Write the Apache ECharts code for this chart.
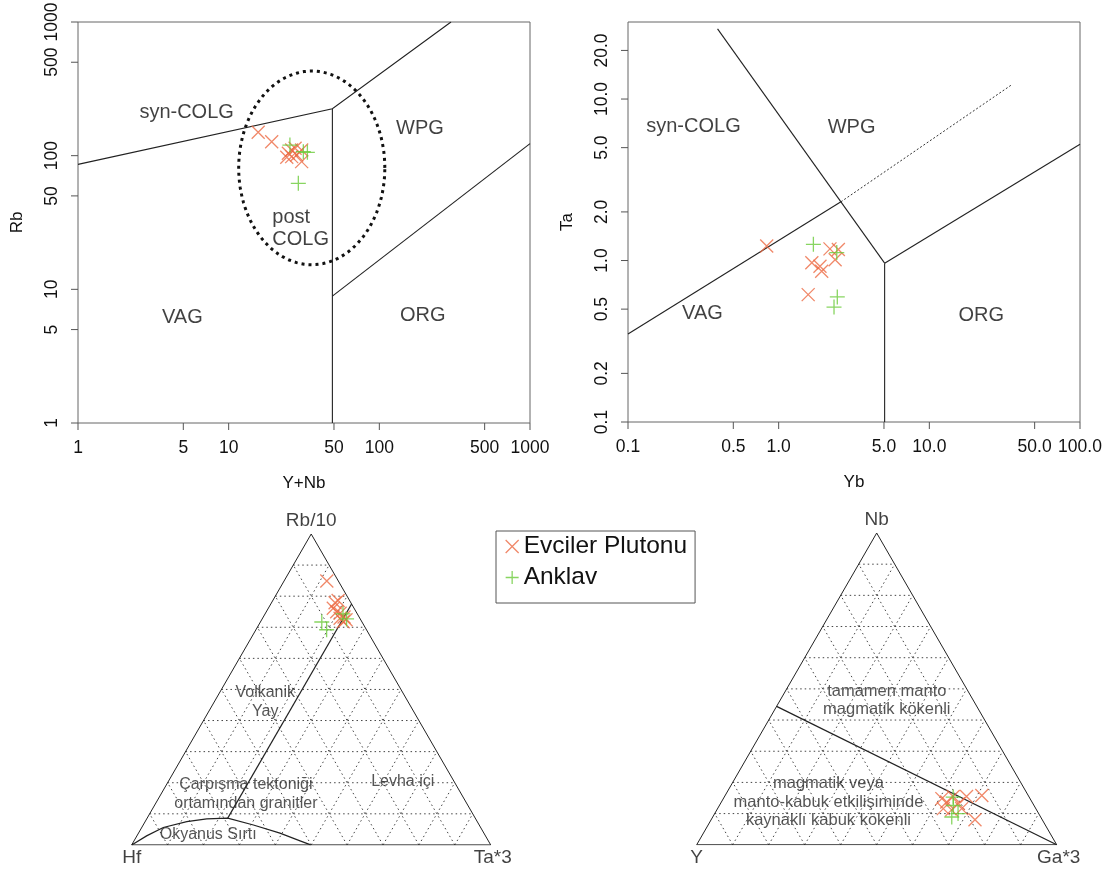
<!DOCTYPE html>
<html><head><meta charset="utf-8">
<script src="https://cdn.jsdelivr.net/npm/echarts/dist/echarts.min.js"></script>
<style>html,body{margin:0;padding:0;background:#fff}#c{width:1115px;height:870px}</style>
</head><body><div id="c"></div>
<script>
// ---------------- DATA ----------------
// Plot 1: Rb vs Y+Nb (log-log)
const p1XTicks = [1, 5, 10, 50, 100, 500, 1000];
const p1XTickLabels = ['1', '5', '10', '50', '100', '500', '1000'];
const p1YTicks = [1, 5, 10, 50, 100, 500, 1000];
const p1YTickLabels = ['1', '5', '10', '50', '100', '500', '1000'];
const p1EvcilerYNb = [15.7, 19.3, 24.9, 26.2, 27.6, 24.3, 28.3, 30.5, 30.5, 26.2];
const p1EvcilerRb  = [149.6, 127, 104.2, 110.3, 113.5, 97.2, 101.2, 110.3, 90.2, 98.3];
const p1AnklavYNb  = [25.5, 31.3, 29.0, 33.3];
const p1AnklavRb   = [120, 107, 62.1, 106];
const p1Boundaries = [
  [[1, 86.1], [48.8, 224.7], [299, 1000]],
  [[48.8, 224.7], [48.8, 1]],
  [[48.8, 8.9], [1000, 123]]
];
const p1PostColgEllipse = { cx: 35.6, cy: 81, rxDecades: 0.485, ryDecades: 0.7245 };
const p1RegionNames = ['syn-COLG', 'WPG', 'VAG', 'ORG', 'post\nCOLG'];
const p1RegionAt = [[5.26, 212], [186, 159], [4.93, 6.14], [194, 6.39], [19.5, 28.7]];

// Plot 2: Ta vs Yb (log-log)
const p2XTicks = [0.1, 0.5, 1, 5, 10, 50, 100];
const p2XTickLabels = ['0.1', '0.5', '1.0', '5.0', '10.0', '50.0', '100.0'];
const p2YTicks = [0.1, 0.2, 0.5, 1, 2, 5, 10, 20];
const p2YTickLabels = ['0.1', '0.2', '0.5', '1.0', '2.0', '5.0', '10.0', '20.0'];
const p2EvcilerYb = [0.833, 2.19, 2.49, 1.66, 1.88, 1.93, 2.37, 1.57];
const p2EvcilerTa = [1.23, 1.18, 1.17, 0.968, 0.922, 0.858, 1.01, 0.615];
const p2AnklavYb  = [1.70, 2.43, 2.45, 2.33];
const p2AnklavTa  = [1.26, 1.12, 0.595, 0.515];
const p2Boundaries = [
  [[0.393, 27.2], [5.05, 0.963]],
  [[0.1, 0.351], [2.59, 2.31]],
  [[5.05, 0.963], [5.05, 0.1]],
  [[5.05, 0.963], [100, 5.25]]
];
const p2DottedBoundary = [[[2.59, 2.31], [35.4, 12.3]]];
const p2RegionNames = ['syn-COLG', 'WPG', 'VAG', 'ORG'];
const p2RegionAt = [[0.272, 6.77], [3.05, 6.65], [0.312, 0.473], [22.1, 0.455]];

// Ternary 1: Rb/10 (top) - Hf (left) - Ta*3 (right), fractions
const t1Vertices = ['Rb/10', 'Hf', 'Ta*3'];
const t1EvcilerRb10 = [0.849, 0.779, 0.786, 0.761, 0.750, 0.745, 0.718, 0.724, 0.729, 0.733];
const t1EvcilerHf   = [0.032, 0.044, 0.032, 0.058, 0.054, 0.047, 0.052, 0.041, 0.055, 0.042];
const t1EvcilerTa3  = [0.119, 0.177, 0.182, 0.181, 0.196, 0.208, 0.230, 0.235, 0.216, 0.225];
const t1AnklavRb10  = [0.717, 0.692, 0.727, 0.743];
const t1AnklavHf    = [0.112, 0.111, 0.038, 0.040];
const t1AnklavTa3   = [0.171, 0.197, 0.235, 0.217];
// boundaries as [top, right] fractions
const t1ArcBoundary = [[[0.775, 0.225], [0.086, 0.2245]]];
const t1RidgeCurve = [[[0, 0], [0.029, 0.027], [0.056, 0.060], [0.075, 0.116], [0.084, 0.167], [0.086, 0.2245],
  [0.064, 0.307], [0.038, 0.394], [0.013, 0.4625], [0, 0.4986]]];
const t1RegionNames = ['Volkanik\nYay', 'Çarpışma tektoniği\nortamından granitler', 'Levha içi', 'Okyanus Sırtı'];
const t1RegionAt = [[0.372, 0.398], [0.318, 0.1415], [0.755, 0.176], [0.213, 0.028]];

// Ternary 2: Nb (top) - Y (left) - Ga*3 (right), fractions
const t2Vertices = ['Nb', 'Y', 'Ga*3'];
const t2EvcilerNb  = [0.148, 0.137, 0.155, 0.155, 0.158, 0.116, 0.112, 0.116, 0.080, 0.132];
const t2EvcilerY   = [0.246, 0.237, 0.210, 0.173, 0.129, 0.257, 0.236, 0.206, 0.187, 0.207];
const t2EvcilerGa3 = [0.607, 0.626, 0.635, 0.672, 0.713, 0.627, 0.652, 0.678, 0.733, 0.661];
const t2AnklavNb   = [0.153, 0.126, 0.089, 0.100];
const t2AnklavY    = [0.211, 0.224, 0.247, 0.224];
const t2AnklavGa3  = [0.636, 0.650, 0.664, 0.676];
const t2Boundary = [[[0.444, 0], [0, 1]]];
const t2RegionNames = ['tamamen manto\nmagmatik kökenli', 'magmatik veya\nmanto-kabuk etkilişiminde\nkaynaklı kabuk kökenli'];
const t2RegionAt = [[0.528, 0.401], [0.366, 0.118]];

const seriesNames = ['Evciler Plutonu', 'Anklav'];

// ---------------- CHART ----------------
const FF = "'Liberation Sans', Arial, sans-serif";
const ORANGE = '#EC6A43', GREEN = '#6ACB3A', TXT = '#111';
const SQ = Math.sqrt(3) / 2;
const XP = 'path://M0,0L10,10M10,0L0,10';
const PP = 'path://M5,0L5,10M0,5L10,5';

const zip = (a, b) => a.map((v, i) => [v, b[i]]);
const tern = (t, r) => [r + t / 2, t * SQ];
const ternPts = (top, right) => top.map((t, i) => tern(t, right[i]));
const ternSegs = segs => segs.map(s => s.map(p => tern(p[0], p[1])));

function linesS(g, segs, style, z) {
  return { type: 'lines', coordinateSystem: 'cartesian2d', xAxisIndex: g, yAxisIndex: g, polyline: true,
    silent: true, symbol: ['none', 'none'], lineStyle: Object.assign({ opacity: 1 }, style),
    data: segs.map(s => ({ coords: s })), z: z || 2, animation: false };
}
function scatterS(name, g, data, sym, size, color) {
  return { type: 'scatter', name, xAxisIndex: g, yAxisIndex: g, data, symbol: sym, symbolSize: size,
    itemStyle: { color: color, borderColor: color, borderWidth: 1.3 }, emphasis: { disabled: true }, silent: true, z: 6 };
}
function textS(g, names, at, fontSize, opts) {
  opts = opts || {};
  return { type: 'scatter', xAxisIndex: g, yAxisIndex: g, symbolSize: 1, silent: true, emphasis: { disabled: true },
    itemStyle: { color: 'rgba(0,0,0,0)' }, z: 4,
    data: names.map((n, i) => ({ name: n, value: at[i],
      label: Object.assign({}, (opts.per && opts.per[i]) || {}) })),
    label: { show: true, position: 'inside', formatter: '{b}', fontSize, fontFamily: FF, color: opts.color || TXT,
      lineHeight: opts.lineHeight || fontSize + 3 } };
}
function tickS(g, vals, labels, dir, fixed) {
  return { type: 'custom', xAxisIndex: g, yAxisIndex: g, silent: true, clip: false, z: 3,
    data: vals.map(v => dir === 'x' ? [v, fixed] : [fixed, v]),
    renderItem: (params, api) => {
      const p = api.coord([api.value(0), api.value(1)]);
      const lab = labels[params.dataIndex];
      const st = { text: lab, fontSize: 17.5, fontFamily: FF, fill: TXT, align: 'center', verticalAlign: 'middle' };
      if (dir === 'x') {
        return { type: 'group', children: [
          { type: 'line', shape: { x1: p[0], y1: p[1], x2: p[0], y2: p[1] + 7 }, style: { stroke: '#555', lineWidth: 1 } },
          { type: 'text', x: p[0], y: p[1] + 25, style: st } ] };
      }
      return { type: 'group', children: [
        { type: 'line', shape: { x1: p[0] - 7, y1: p[1], x2: p[0], y2: p[1] }, style: { stroke: '#555', lineWidth: 1 } },
        { type: 'text', x: p[0] - 26, y: p[1], rotation: Math.PI / 2, style: st } ] };
    } };
}

// ellipse (guide shape) computed in log space
const ell = [];
for (let k = 0; k <= 120; k++) {
  const a = k / 120 * 2 * Math.PI;
  ell.push([Math.pow(10, Math.log10(p1PostColgEllipse.cx) + p1PostColgEllipse.rxDecades * Math.cos(a)),
            Math.pow(10, Math.log10(p1PostColgEllipse.cy) + p1PostColgEllipse.ryDecades * Math.sin(a))]);
}

// ternary dotted grid
const ternGrid = [];
for (let k = 1; k <= 9; k++) {
  const f = k / 10;
  ternGrid.push([tern(f, 0), tern(f, 1 - f)]);
  ternGrid.push([tern(0, f), tern(1 - f, f)]);
  ternGrid.push([tern(0, 1 - f), tern(1 - f, 0)]);
}
const triangle = [[tern(0, 0), tern(0, 1), tern(1, 0), tern(0, 0)]];
const vertexAt = [tern(1, 0), tern(0, 0), tern(0, 1)];
const vertexOffsets = [{ offset: [0, -13] }, { offset: [0, 13] }, { offset: [2, 13] }];

const logAxis = (g, min, max, name) => ({
  type: 'log', logBase: 10, gridIndex: g, min, max, name, nameLocation: 'middle', nameGap: 52,
  nameTextStyle: { fontSize: 17, fontFamily: FF, color: TXT },
  axisLine: { show: false }, axisTick: { show: false }, axisLabel: { show: false }, splitLine: { show: false }
});
const ternAxis = (g, max) => ({ type: 'value', gridIndex: g, min: 0, max, show: false, splitLine: { show: false } });

const chart = echarts.init(document.getElementById('c'), null, { renderer: 'canvas' });
chart.setOption({
  animation: false,
  backgroundColor: '#fff',
  grid: [
    { left: 78, top: 22, width: 452, height: 401, show: true, borderColor: '#666', borderWidth: 1, backgroundColor: 'transparent' },
    { left: 628, top: 22, width: 452, height: 400, show: true, borderColor: '#666', borderWidth: 1, backgroundColor: 'transparent' },
    { left: 131.7, top: 534, width: 359, height: 359 * SQ },
    { left: 696.7, top: 533, width: 360, height: 360 * SQ }
  ],
  xAxis: [logAxis(0, 1, 1000, 'Y+Nb'), logAxis(1, 0.1, 100, 'Yb'), ternAxis(2, 1), ternAxis(3, 1)],
  yAxis: [logAxis(0, 1, 1000, 'Rb'), logAxis(1, 0.1, 30, 'Ta'), ternAxis(2, SQ), ternAxis(3, SQ)],
  legend: {
    orient: 'vertical', left: 496, top: 531, selectedMode: false,
    data: [
      { name: seriesNames[0], icon: XP, itemStyle: { color: ORANGE, borderColor: ORANGE, borderWidth: 1.3 } },
      { name: seriesNames[1], icon: PP, itemStyle: { color: GREEN, borderColor: GREEN, borderWidth: 1.3 } }
    ],
    itemWidth: 13, itemHeight: 13, itemGap: 6,
    textStyle: { fontSize: 24.5, fontFamily: FF, color: TXT },
    borderColor: '#555', borderWidth: 1, padding: [3, 8, 13, 9], backgroundColor: '#fff'
  },
  series: [
    // plot 1
    linesS(0, p1Boundaries, { color: '#222', width: 1.1 }),
    linesS(0, [ell], { color: '#111', width: 3, type: [3, 4] }),
    textS(0, p1RegionNames, p1RegionAt, 20, { lineHeight: 22, per: [null, null, null, null, { align: 'left' }] }),
    tickS(0, p1XTicks, p1XTickLabels, 'x', 1),
    tickS(0, p1YTicks, p1YTickLabels, 'y', 1),
    scatterS(seriesNames[0], 0, zip(p1EvcilerYNb, p1EvcilerRb), XP, 13, ORANGE),
    scatterS(seriesNames[1], 0, zip(p1AnklavYNb, p1AnklavRb), PP, 15, GREEN),
    // plot 2
    linesS(1, p2Boundaries, { color: '#222', width: 1.1 }),
    linesS(1, p2DottedBoundary, { color: '#333', width: 1, type: [2, 2] }),
    textS(1, p2RegionNames, p2RegionAt, 20),
    tickS(1, p2XTicks, p2XTickLabels, 'x', 0.1),
    tickS(1, p2YTicks, p2YTickLabels, 'y', 0.1),
    scatterS(seriesNames[0], 1, zip(p2EvcilerYb, p2EvcilerTa), XP, 13, ORANGE),
    scatterS(seriesNames[1], 1, zip(p2AnklavYb, p2AnklavTa), PP, 15, GREEN),
    // ternary 1
    linesS(2, ternGrid, { color: '#444', width: 1, type: [1.5, 3] }),
    linesS(2, triangle, { color: '#222', width: 1 }),
    linesS(2, ternSegs(t1ArcBoundary), { color: '#222', width: 1.2 }),
    linesS(2, ternSegs(t1RidgeCurve), { color: '#222', width: 1.2 }),
    textS(2, t1RegionNames, t1RegionAt, 16, { color: '#2a2a2a', lineHeight: 19 }),
    textS(2, t1Vertices, vertexAt, 19, { per: vertexOffsets }),
    scatterS(seriesNames[0], 2, ternPts(t1EvcilerRb10, t1EvcilerTa3), XP, 13, ORANGE),
    scatterS(seriesNames[1], 2, ternPts(t1AnklavRb10, t1AnklavTa3), PP, 15, GREEN),
    // ternary 2
    linesS(3, ternGrid, { color: '#444', width: 1, type: [1.5, 3] }),
    linesS(3, triangle, { color: '#222', width: 1 }),
    linesS(3, ternSegs(t2Boundary), { color: '#222', width: 1.2 }),
    textS(3, t2RegionNames, t2RegionAt, 16.5, { color: '#2a2a2a', lineHeight: 18.5 }),
    textS(3, t2Vertices, vertexAt, 19, { per: vertexOffsets }),
    scatterS(seriesNames[0], 3, ternPts(t2EvcilerNb, t2EvcilerGa3), XP, 13, ORANGE),
    scatterS(seriesNames[1], 3, ternPts(t2AnklavNb, t2AnklavGa3), PP, 15, GREEN)
  ]
});
</script></body></html>
